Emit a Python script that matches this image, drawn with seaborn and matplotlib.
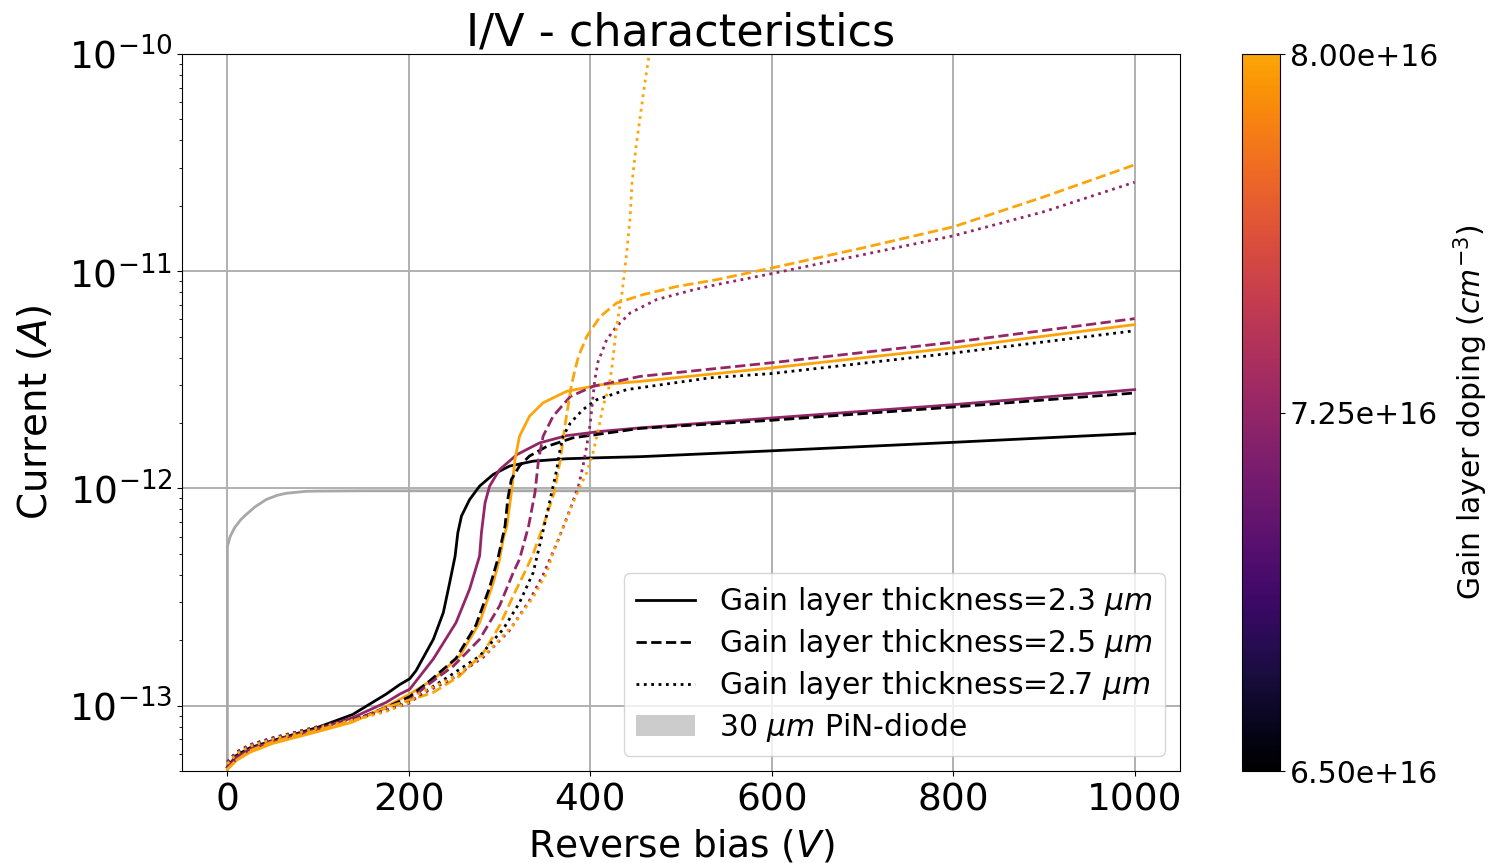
import numpy as np
import pandas as pd
import seaborn as sns
import matplotlib
matplotlib.use("Agg")
import matplotlib.pyplot as plt
from matplotlib.colors import ListedColormap, Normalize
from matplotlib.lines import Line2D
from matplotlib.patches import Patch

# doping levels (cm^-3) and gain layer thicknesses (um)
dopings = [6.50e16, 7.25e16, 8.00e16]
thicknesses = [2.3, 2.5, 2.7]

# PiN diode reference
v_pin = [0, 0, 3, 8, 15, 21, 30, 43, 55, 65, 87, 100, 150, 1000]
i_pin = [5.0e-14, 5.4e-13, 6.0e-13, 6.6e-13, 7.2e-13, 7.6e-13, 8.2e-13, 8.9e-13, 9.3e-13, 9.5e-13, 9.7e-13, 9.72e-13, 9.75e-13, 9.75e-13]

# thickness 2.3 um
v_23_650 = [0, 10, 25, 50, 100, 138, 175, 190, 201, 208, 227, 238, 245, 251, 254, 258, 267, 278, 293, 311, 337, 374, 411, 455, 600, 800, 1000]
i_23_650 = [5.2e-14, 5.9e-14, 6.4e-14, 6.9e-14, 7.95e-14, 9.1e-14, 1.13e-13, 1.25e-13, 1.33e-13, 1.45e-13, 2.02e-13, 2.68e-13,
            3.68e-13, 4.88e-13, 6.25e-13, 7.46e-13, 8.89e-13, 1.025e-12, 1.16e-12, 1.267e-12, 1.335e-12, 1.37e-12, 1.385e-12,
            1.40e-12, 1.49e-12, 1.63e-12, 1.79e-12]
v_23_725 = [0, 10, 25, 50, 100, 138, 175, 190, 201, 227, 252, 267, 278, 280, 284, 289, 300, 319, 344, 374, 411, 455, 600, 800, 1000]
i_23_725 = [5.2e-14, 5.8e-14, 6.3e-14, 6.8e-14, 7.8e-14, 8.8e-14, 1.035e-13, 1.13e-13, 1.19e-13, 1.64e-13, 2.41e-13, 3.44e-13,
            4.89e-13, 6.25e-13, 8.59e-13, 1.025e-12, 1.22e-12, 1.43e-12, 1.62e-12, 1.75e-12, 1.83e-12, 1.90e-12, 2.11e-12,
            2.43e-12, 2.85e-12]
v_23_800 = [0, 10, 25, 50, 100, 138, 175, 201, 227, 256, 278, 293, 300, 304, 308, 313, 317, 322, 333, 348, 374, 411, 455, 600, 800, 1000]
i_23_800 = [5.1e-14, 5.6e-14, 6.1e-14, 6.7e-14, 7.6e-14, 8.4e-14, 9.9e-14, 1.13e-13, 1.32e-13, 1.69e-13, 2.41e-13, 3.68e-13,
            4.72e-13, 5.83e-13, 6.71e-13, 9.55e-13, 1.36e-12, 1.74e-12, 2.15e-12, 2.48e-12, 2.8e-12, 3.0e-12, 3.11e-12,
            3.59e-12, 4.44e-12, 5.68e-12]

# thickness 2.5 um
v_25_650 = [0, 10, 25, 50, 100, 150, 175, 201, 223, 252, 274, 289, 298, 306, 309, 313, 322, 333, 352, 381, 411, 455, 600, 800, 1000]
i_25_650 = [5.2e-14, 5.7e-14, 6.3e-14, 6.9e-14, 7.8e-14, 8.9e-14, 9.8e-14, 1.1e-13, 1.3e-13, 1.65e-13, 2.35e-13, 3.5e-13,
            4.72e-13, 6.71e-13, 8.89e-13, 1.1e-12, 1.27e-12, 1.41e-12, 1.56e-12, 1.71e-12, 1.78e-12, 1.89e-12, 2.06e-12,
            2.37e-12, 2.75e-12]
v_25_725 = [0, 10, 25, 50, 100, 150, 175, 201, 219, 249, 278, 300, 315, 322, 328, 332, 339, 343, 348, 359, 378, 403, 455, 600, 800, 1000]
i_25_725 = [5.2e-14, 5.7e-14, 6.3e-14, 6.9e-14, 7.8e-14, 8.9e-14, 9.8e-14, 1.06e-13, 1.23e-13, 1.52e-13, 2.02e-13, 2.88e-13,
            4.09e-13, 4.72e-13, 5.83e-13, 6.71e-13, 9.55e-13, 1.36e-12, 1.74e-12, 2.15e-12, 2.65e-12, 2.95e-12, 3.28e-12,
            3.79e-12, 4.71e-12, 6.05e-12]
v_25_800 = [0, 10, 25, 50, 100, 150, 175, 201, 227, 256, 282, 300, 315, 330, 337, 348, 360, 367, 372, 379, 383, 387, 396, 411,
            429, 458, 495, 539, 600, 700, 800, 900, 1000]
i_25_800 = [5.1e-14, 5.6e-14, 6.2e-14, 6.8e-14, 7.7e-14, 8.8e-14, 9.8e-14, 1.06e-13, 1.15e-13, 1.37e-13, 1.75e-13, 2.33e-13,
            3.2e-13, 4.3e-13, 5.0e-13, 6.7e-13, 9.5e-13, 1.36e-12, 1.94e-12, 2.95e-12, 3.5e-12, 4.06e-12, 5.0e-12, 6.19e-12,
            7.14e-12, 7.8e-12, 8.5e-12, 9.14e-12, 1.035e-11, 1.28e-11, 1.6e-11, 2.2e-11, 3.09e-11]

# thickness 2.7 um
v_27_650 = [0, 10, 25, 50, 100, 150, 175, 201, 212, 245, 278, 304, 322, 337, 344, 350, 355, 359, 363, 366, 370, 378, 392, 407,
            440, 532, 600, 800, 1000]
i_27_650 = [5.5e-14, 6.1e-14, 6.6e-14, 7.1e-14, 8.0e-14, 8.9e-14, 9.5e-14, 1.04e-13, 1.12e-13, 1.37e-13, 1.69e-13, 2.25e-13,
            2.98e-13, 4.09e-13, 5.43e-13, 6.95e-13, 8.6e-13, 1.025e-12, 1.22e-12, 1.46e-12, 1.74e-12, 2.0e-12, 2.31e-12,
            2.56e-12, 2.85e-12, 3.23e-12, 3.38e-12, 4.2e-12, 5.32e-12]
v_27_725 = [0, 10, 25, 50, 100, 150, 175, 201, 212, 245, 282, 311, 333, 348, 357, 365, 372, 379, 387, 392, 396, 400, 403, 405,
            409, 411, 418, 429, 444, 473, 514, 539, 600, 700, 800, 900, 1000]
i_27_725 = [5.5e-14, 6.1e-14, 6.6e-14, 7.1e-14, 8.0e-14, 8.9e-14, 9.5e-14, 1.03e-13, 1.12e-13, 1.31e-13, 1.67e-13, 2.22e-13,
            3.05e-13, 4.0e-13, 4.89e-13, 5.83e-13, 6.95e-13, 8.3e-13, 1.025e-12, 1.27e-12, 1.56e-12, 2.0e-12, 2.65e-12,
            3.17e-12, 3.92e-12, 4.06e-12, 4.84e-12, 5.57e-12, 6.43e-12, 7.4e-12, 8.22e-12, 8.67e-12, 9.75e-12, 1.19e-11,
            1.455e-11, 1.88e-11, 2.57e-11]
v_27_800 = [0, 10, 25, 50, 100, 150, 175, 201, 212, 249, 286, 315, 337, 352, 359, 366, 374, 381, 389, 396, 403, 409, 414, 420,
            424, 429, 435, 440, 444, 446, 450, 455, 460, 465, 470]
i_27_800 = [5.4e-14, 6.0e-14, 6.5e-14, 7.0e-14, 7.9e-14, 8.8e-14, 9.4e-14, 1.04e-13, 1.14e-13, 1.35e-13, 1.75e-13, 2.35e-13,
            3.15e-13, 4.1e-13, 5.06e-13, 6.04e-13, 7.2e-13, 8.6e-13, 1.025e-12, 1.18e-12, 1.46e-12, 1.87e-12, 2.39e-12,
            2.85e-12, 3.65e-12, 5.57e-12, 7.94e-12, 1.2e-11, 1.79e-11, 2.55e-11, 3.62e-11, 5.15e-11, 7.3e-11, 1.0e-10, 1.4e-10]

curves = {
    (2.3, 6.50e16): (v_23_650, i_23_650), (2.3, 7.25e16): (v_23_725, i_23_725), (2.3, 8.00e16): (v_23_800, i_23_800),
    (2.5, 6.50e16): (v_25_650, i_25_650), (2.5, 7.25e16): (v_25_725, i_25_725), (2.5, 8.00e16): (v_25_800, i_25_800),
    (2.7, 6.50e16): (v_27_650, i_27_650), (2.7, 7.25e16): (v_27_725, i_27_725), (2.7, 8.00e16): (v_27_800, i_27_800),
}
styles = {2.3: '-', 2.5: '--', 2.7: ':'}

cmap = ListedColormap(plt.cm.inferno(np.linspace(0, 0.8, 256)))
norm = Normalize(vmin=min(dopings), vmax=max(dopings))

fig = plt.figure(figsize=(14.92, 8.63), dpi=100)
ax = fig.add_axes([0.122, 0.1066, 0.6689, 0.8308])
cax = fig.add_axes([0.8324, 0.1066, 0.0255, 0.8308])

sns.lineplot(x=v_pin, y=i_pin, ax=ax, color='#a8a8a8', lw=2, estimator=None, sort=False)
for t in thicknesses:
    for d in dopings:
        v, i = curves[(t, d)]
        sns.lineplot(x=v, y=i, ax=ax, color=cmap(norm(d)), linestyle=styles[t], lw=2,
                     estimator=None, sort=False)

ax.set_yscale('log')
ax.set_ylim(5e-14, 1e-10)
ax.set_xlim(-50, 1050)
ax.set_xticks([0, 200, 400, 600, 800, 1000])
ax.grid(True, which='major', color='#b0b0b0', lw=1.4)
ax.tick_params(labelsize=27)
ax.tick_params(axis='x', pad=5)
ax.set_xlabel('Reverse bias ($V$)', fontsize=27, labelpad=6)
ax.set_ylabel('Current ($A$)', fontsize=28, labelpad=10)
ax.set_title('I/V - characteristics', fontsize=32, pad=5)

handles = [Line2D([], [], color='k', ls=styles[t], lw=2, label=f'Gain layer thickness={t} $\\mu m$') for t in thicknesses]
handles.append(Patch(facecolor='#cccccc', label='30 $\\mu m$ PiN-diode'))
ax.legend(handles=handles, loc='lower right', fontsize=21.5, labelspacing=0.3)

sm = plt.cm.ScalarMappable(norm=norm, cmap=cmap)
cb = fig.colorbar(sm, cax=cax, ticks=dopings, format='%.2e')
cb.ax.tick_params(labelsize=21.5)
cb.set_label('Gain layer doping ($cm^{-3}$)', fontsize=21.5, labelpad=10)

fig.savefig('out.png', dpi=100)
